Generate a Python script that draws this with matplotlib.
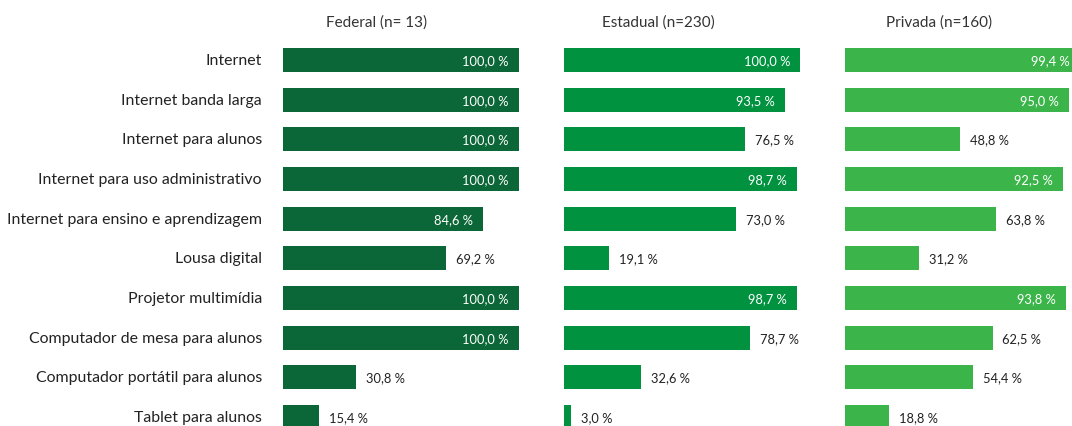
import numpy as np
import matplotlib.pyplot as plt

categorias = ['Internet', 'Internet banda larga', 'Internet para alunos',
              'Internet para uso administrativo', 'Internet para ensino e aprendizagem',
              'Lousa digital', 'Projetor multimídia', 'Computador de mesa para alunos',
              'Computador portátil para alunos', 'Tablet para alunos']

federal = [100.0, 100.0, 100.0, 100.0, 84.6, 69.2, 100.0, 100.0, 30.8, 15.4]
estadual = [100.0, 93.5, 76.5, 98.7, 73.0, 19.1, 98.7, 78.7, 32.6, 3.0]
privada = [99.4, 95.0, 48.8, 92.5, 63.8, 31.2, 93.8, 62.5, 54.4, 18.8]

titulos = ['Federal (n= 13)', 'Estadual (n=230)', 'Privada (n=160)']
cores = ['#0b6737', '#00923f', '#3bb54a']

plt.rcParams['font.family'] = ['Lato', 'DejaVu Sans']

W, H = 1072, 427
fig = plt.figure(figsize=(W / 100, H / 100), dpi=100)

lefts = [283, 564, 845]
largura = 236
y = np.arange(len(categorias))
passo = 39.67
topo = -61 / passo
base = (H - 61) / passo

for k, (vals, tit, cor) in enumerate(zip([federal, estadual, privada], titulos, cores)):
    ax = fig.add_axes([lefts[k] / W, 0, largura / W, 1])
    ax.barh(y, vals, height=24 / passo, color=cor)
    ax.set_xlim(0, 100)
    ax.set_ylim(base, topo)
    ax.axis('off')
    for i, v in enumerate(vals):
        txt = f'{v:.1f} %'.replace('.', ',')
        if v >= 80:
            ax.annotate(txt, (v, i), xytext=(-10, 0), textcoords='offset pixels',
                        ha='right', va='center', color='white', fontsize=9.3)
        else:
            ax.annotate(txt, (v, i), xytext=(10, 0), textcoords='offset pixels',
                        ha='left', va='center', color='#222222', fontsize=9.3)
    fig.text((lefts[k] + 94) / W, 1 - 23 / H, tit, ha='center', va='center',
             fontsize=11, color='#333333')

# rótulos das categorias
ax0 = fig.axes[0]
for i, c in enumerate(categorias):
    ax0.annotate(c, (0, i), xytext=(-21, 0), textcoords='offset pixels',
                 ha='right', va='center', fontsize=11.4, color='#222222')

fig.savefig('out.png', dpi=100)
